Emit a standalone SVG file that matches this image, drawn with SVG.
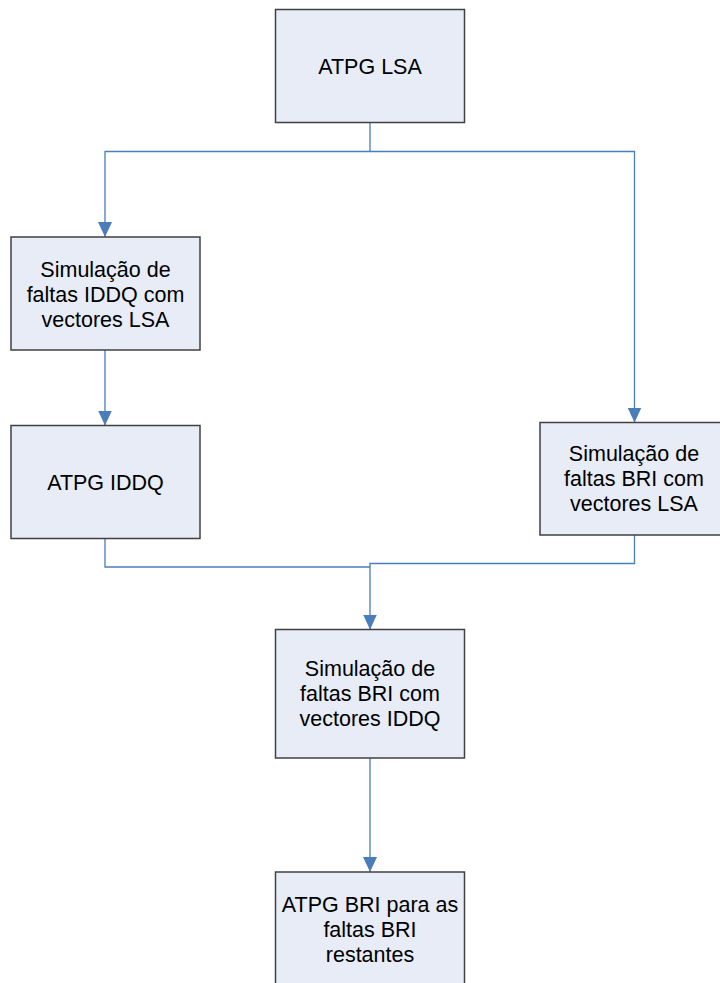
<svg xmlns="http://www.w3.org/2000/svg" width="720" height="983" viewBox="0 0 720 983">
<style>
.box{fill:#E7ECF6;stroke:#404040;stroke-width:1.5}
.t{font-family:"Liberation Sans",Arial,sans-serif;font-size:21.5px;fill:#000;text-anchor:middle}
.c{fill:none;stroke:#4A7EBB;stroke-width:1.3}
.a{marker-end:url(#ah)}
</style>
<defs>
<marker id="ah" markerUnits="userSpaceOnUse" markerWidth="15" markerHeight="14" viewBox="0 0 15 14" refX="15" refY="7" orient="auto">
<path d="M0,0 L15,7 L0,14 Z" fill="#4A7EBB"/>
</marker>
</defs>
<g id="connectors">
<path class="c a" d="M370,123 V151.5 H105 V237"/>
<path class="c a" d="M370,151.5 H634.5 V422.5"/>
<path class="c a" d="M105,350 V425.5"/>
<path class="c a" d="M105,539 V567 H370 V629.5"/>
<path class="c" d="M634.5,535 V563.5 H370 V567"/>
<path class="c a" d="M370,758 V872"/>
</g>
<g id="n1">
<rect class="box" x="275.5" y="9.5" width="189" height="113"/>
<text class="t" x="370" y="73.5">ATPG LSA</text>
</g>
<g id="n2">
<rect class="box" x="11" y="237" width="189" height="113"/>
<text class="t" x="105.5" y="276.5">Simulação de</text>
<text class="t" x="105.5" y="301.5">faltas IDDQ com</text>
<text class="t" x="105.5" y="326.5">vectores LSA</text>
</g>
<g id="n3">
<rect class="box" x="11" y="425.5" width="189" height="113"/>
<text class="t" x="105.5" y="489.5">ATPG IDDQ</text>
</g>
<g id="n4">
<rect class="box" x="540" y="422.5" width="189" height="112.5"/>
<text class="t" x="634" y="460.5">Simulação de</text>
<text class="t" x="634" y="485.5">faltas BRI com</text>
<text class="t" x="634" y="510.5">vectores LSA</text>
</g>
<g id="n5">
<rect class="box" x="275.5" y="629.5" width="189" height="128.5"/>
<text class="t" x="370" y="676">Simulação de</text>
<text class="t" x="370" y="701">faltas BRI com</text>
<text class="t" x="370" y="726">vectores IDDQ</text>
</g>
<g id="n6">
<rect class="box" x="275.5" y="872" width="189" height="113"/>
<text class="t" x="370" y="911.5">ATPG BRI para as</text>
<text class="t" x="370" y="936.5">faltas BRI</text>
<text class="t" x="370" y="961.5">restantes</text>
</g>
</svg>
